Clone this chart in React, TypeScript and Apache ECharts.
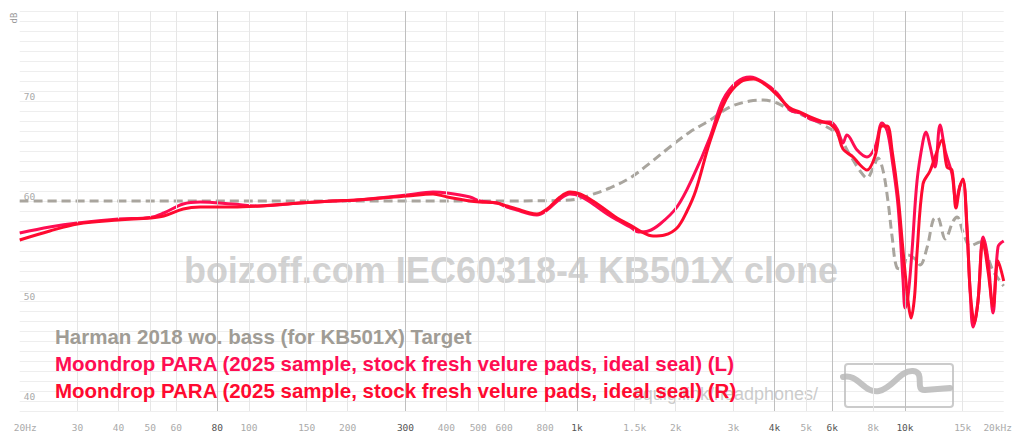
import React, { useEffect, useRef } from "react";
import * as echarts from "echarts";

// ---- Data ----
const FREQ_TICKS = [20, 30, 40, 50, 60, 80, 100, 150, 200, 300, 400, 500, 600, 800, 1000, 1500, 2000, 3000, 4000, 5000, 6000, 8000, 10000, 15000, 20000];
const TICK_LABELS = ["20Hz", "30", "40", "50", "60", "80", "100", "150", "200", "300", "400", "500", "600", "800", "1k", "1.5k", "2k", "3k", "4k", "5k", "6k", "8k", "10k", "15k", "20kHz"];
const MAJOR_TICKS = [80, 300, 1000, 4000, 6000, 10000];
const DB_LABELS = [40, 50, 60, 70];

const TARGET_NAME = "Harman 2018 wo. bass (for KB501X) Target";
const LEFT_NAME = "Moondrop PARA (2025 sample, stock fresh velure pads, ideal seal) (L)";
const RIGHT_NAME = "Moondrop PARA (2025 sample, stock fresh velure pads, ideal seal) (R)";

const targetData = [
  [20, 60], [100, 60], [500, 60], [900, 60.05], [1000, 60.2], [1100, 60.6], [1260, 61.3], [1450, 62.3],
  [1670, 63.8], [1920, 65.4], [2210, 66.9], [2550, 68.1], [2930, 69.4], [3370, 70.0], [3700, 70.1],
  [4070, 69.8], [4460, 69.1], [5030, 68.4], [5630, 67.6], [6210, 66.7], [6800, 64.6], [7300, 63.0],
  [7660, 62.3], [8000, 63.3], [8280, 64.3], [8580, 63.0], [8890, 59.8], [9140, 56.4], [9460, 53.3],
  [9800, 53.2], [10220, 54.6], [10740, 54.2], [11120, 53.6], [11690, 55.4], [12190, 58.1], [12540, 58.4],
  [13270, 56.2], [14030, 58.0], [14430, 58.4], [15060, 56.8], [15810, 55.5], [16950, 55.9], [17820, 54.5],
  [18580, 53.0], [20000, 51.5]
];

const leftData = [
  [20, 56.8], [24.7, 57.4], [30, 57.8], [40, 58.2], [50, 58.35], [55, 58.8], [63, 59.7], [71, 59.9],
  [89, 59.7], [108, 59.5], [143, 59.8], [180, 60.0], [213, 60.1], [303, 60.6], [364, 60.9], [402, 60.8],
  [472, 60.4], [506, 60.0], [570, 59.8], [612, 59.4], [656, 59.1], [719, 58.7], [755, 58.6], [811, 59.1],
  [888, 60.2], [952, 60.7], [1022, 60.5], [1119, 59.7], [1236, 58.7], [1325, 58.1], [1452, 57.4],
  [1540, 56.9], [1650, 57.0], [1792, 57.7], [2018, 59.4], [2258, 62.4], [2546, 66.4], [2787, 70.1],
  [3076, 71.9], [3372, 72.4], [3692, 71.9], [4072, 70.8], [4464, 69.1], [4786, 68.8], [5138, 68.2],
  [5628, 67.9], [5916, 67.9], [6210, 67.2], [6472, 65.8], [6654, 66.6], [7146, 65.1], [7660, 64.4],
  [8110, 65.4], [8512, 67.8], [8832, 67.0], [9140, 64.1], [9528, 59.5], [9868, 52.0], [10010, 49.3],
  [10220, 50.5], [10508, 55.0], [10884, 62.0], [11350, 66.0], [11592, 66.9], [11922, 65.5], [12350, 63.4],
  [12790, 67.6], [13270, 65.0], [13912, 62.7], [14308, 60.0], [14712, 61.5], [15032, 62.0], [15460, 57.0],
  [15810, 50.8], [16126, 47.4], [16700, 50.0], [17298, 56.4], [17916, 54.1], [18558, 48.8], [19216, 55.4],
  [20000, 56.0]
];

const rightData = [
  [20, 56.1], [24.7, 57.0], [30, 57.7], [40, 58.1], [50, 58.3], [55, 58.5], [63, 59.2], [71, 59.4],
  [89, 59.4], [108, 59.5], [143, 59.8], [180, 60.0], [213, 60.1], [303, 60.5], [364, 60.7], [402, 60.4],
  [472, 60.0], [506, 59.9], [570, 59.8], [612, 59.5], [656, 59.2], [719, 58.8], [755, 58.7], [811, 59.2],
  [888, 60.4], [952, 60.9], [1022, 60.7], [1119, 60.0], [1236, 59.0], [1325, 58.3], [1452, 57.6],
  [1558, 57.0], [1706, 56.5], [1850, 56.6], [2018, 57.3], [2166, 59.0], [2300, 61.0], [2546, 66.0],
  [2850, 70.2], [3150, 71.9], [3450, 72.2], [3800, 71.5], [4100, 70.5], [4464, 69.3], [4786, 68.9],
  [5138, 68.4], [5628, 67.9], [5916, 67.7], [6210, 66.9], [6472, 65.2], [6950, 64.4], [7300, 63.6],
  [7660, 63.1], [8110, 64.5], [8512, 67.5], [8832, 67.5], [9140, 65.0], [9528, 60.5], [9868, 55.0],
  [10220, 50.0], [10436, 48.3], [10700, 50.5], [10884, 54.8], [11350, 61.7], [11922, 63.0], [12350, 64.4],
  [12970, 66.1], [13432, 63.4], [13912, 63.1], [14308, 59.3], [14712, 61.5], [15032, 62.2], [15460, 57.4],
  [15810, 51.0], [16300, 47.8], [16700, 50.0], [17298, 56.0], [17916, 53.0], [18558, 49.5], [19216, 54.0],
  [20000, 52.0]
];

const LOGO_PATH = "M843 377 C858 373 864 394 879 391 C893 388 900 370 913 371 C926 372 914 391 925 390 L950 388";

const MONO = "DejaVu Sans Mono";
const SANS = "Liberation Sans";

function tickLabel(v: number): string {
  const i = FREQ_TICKS.findIndex((f) => Math.abs(f - v) / f < 1e-3);
  if (i < 0) return "";
  const t = TICK_LABELS[i];
  if (i === 0) return "{first|" + t + "}";
  if (i === FREQ_TICKS.length - 1) return "{last|" + t + "}";
  return MAJOR_TICKS.includes(FREQ_TICKS[i]) ? "{d|" + t + "}" : "{n|" + t + "}";
}

export default function App() {
  const ref = useRef<HTMLDivElement>(null);
  useEffect(() => {
    if (!ref.current) return;
    try {
      echarts.graphic.registerShape("logo", echarts.graphic.extendPath(LOGO_PATH, {}));
    } catch (e) {}
    const chart = echarts.init(ref.current, null, { renderer: "svg" });
    const labelBase = { fontFamily: MONO, fontSize: 9.5, color: "#aaaaaa" };
    const gridLines = FREQ_TICKS.slice(1, -1).map((f) => ({
      xAxis: f,
      lineStyle: {
        color: MAJOR_TICKS.includes(f) ? "#bfbfbf" : "#e6e6e6",
        width: 1,
        type: "solid",
      },
    }));
    chart.setOption({
      animation: false,
      backgroundColor: "#ffffff",
      grid: { left: 19.7, right: 20.3, top: 11, bottom: 32, containLabel: false },
      xAxis: {
        type: "log",
        logBase: 10,
        min: 20,
        max: 20000,
        axisLine: { show: false },
        axisTick: { show: false },
        splitLine: { show: false },
        minorSplitLine: { show: false },
        axisLabel: {
          customValues: FREQ_TICKS,
          margin: 11,
          formatter: (v: number) => tickLabel(v),
          ...labelBase,
          rich: {
            n: { ...labelBase },
            d: { ...labelBase, color: "#555555" },
            first: { ...labelBase, padding: [0, 0, 0, 11] },
            last: { ...labelBase, padding: [0, 12, 0, 0] },
          },
        },
      },
      yAxis: {
        type: "value",
        min: 39,
        max: 79,
        interval: 1,
        axisLine: { show: false },
        axisTick: { show: false },
        axisLabel: {
          inside: true,
          margin: 4,
          verticalAlign: "bottom",
          formatter: (v: number) => (DB_LABELS.includes(Math.round(v)) && Math.abs(v - Math.round(v)) < 1e-6 ? String(Math.round(v)) : ""),
          ...labelBase,
        },
        splitLine: { lineStyle: { color: "#eeeeee", width: 1 } },
      },
      graphic: [
        {
          type: "text",
          x: 14,
          y: 18,
          rotation: Math.PI / 2,
          z: 5,
          style: { text: "dB", fontFamily: MONO, fontSize: 9, fill: "#999999", align: "center", verticalAlign: "middle" },
        },
        {
          type: "text",
          x: 511,
          y: 270,
          z: 1,
          silent: true,
          style: {
            text: "boizoff.com IEC60318-4 KB501X clone",
            fontFamily: SANS,
            fontWeight: "bold",
            fontSize: 36,
            fill: "rgba(190,190,190,0.7)",
            align: "center",
            verticalAlign: "middle",
          },
        },
        {
          type: "text",
          x: 818,
          y: 394,
          z: 1,
          silent: true,
          style: {
            text: "squig.link/headphones/",
            fontFamily: SANS,
            fontSize: 18,
            fill: "rgba(190,190,190,0.8)",
            align: "right",
            verticalAlign: "middle",
          },
        },
        {
          type: "rect",
          z: 1,
          silent: true,
          shape: { x: 845, y: 364, width: 108, height: 43, r: 3 },
          style: { fill: "none", stroke: "rgba(190,190,190,0.8)", lineWidth: 2 },
        },
        {
          type: "logo",
          x: 0,
          y: 0,
          z: 1,
          silent: true,
          style: { fill: "none", stroke: "rgba(185,185,185,0.85)", lineWidth: 6, lineCap: "round", lineJoin: "round" },
        },
        {
          type: "text",
          x: 55,
          y: 336,
          z: 10,
          style: { text: TARGET_NAME, fontFamily: SANS, fontWeight: "bold", fontSize: 20.5, fill: "#a09c95", align: "left", verticalAlign: "middle" },
        },
        {
          type: "text",
          x: 55,
          y: 363,
          z: 10,
          style: { text: LEFT_NAME, fontFamily: SANS, fontWeight: "bold", fontSize: 20.5, fill: "#ff0d52", align: "left", verticalAlign: "middle" },
        },
        {
          type: "text",
          x: 55,
          y: 390,
          z: 10,
          style: { text: RIGHT_NAME, fontFamily: SANS, fontWeight: "bold", fontSize: 20.5, fill: "#ff0a30", align: "left", verticalAlign: "middle" },
        },
      ],
      series: [
        {
          name: "gridlines",
          type: "line",
          data: [[20, 60], [20000, 60]],
          symbol: "none",
          silent: true,
          lineStyle: { opacity: 0, width: 0 },
          z: 1,
          markLine: {
            silent: true,
            symbol: ["none", "none"],
            label: { show: false },
            animation: false,
            data: gridLines,
          },
        },
        {
          name: TARGET_NAME,
          type: "line",
          data: targetData,
          symbol: "none",
          smooth: 0.35,
          z: 3,
          lineStyle: { color: "#a9a59e", width: 3, type: [9, 5] },
        },
        {
          name: LEFT_NAME,
          type: "line",
          data: leftData,
          symbol: "none",
          smooth: 0.35,
          z: 4,
          lineStyle: { color: "#ff0d52", width: 3 },
        },
        {
          name: RIGHT_NAME,
          type: "line",
          data: rightData,
          symbol: "none",
          smooth: 0.35,
          z: 5,
          lineStyle: { color: "#ff0a30", width: 3 },
        },
      ],
    });
    return () => chart.dispose();
  }, []);
  return <div ref={ref} style={{ position: "fixed", left: 0, top: 0, width: 1024, height: 443 }} />;
}
